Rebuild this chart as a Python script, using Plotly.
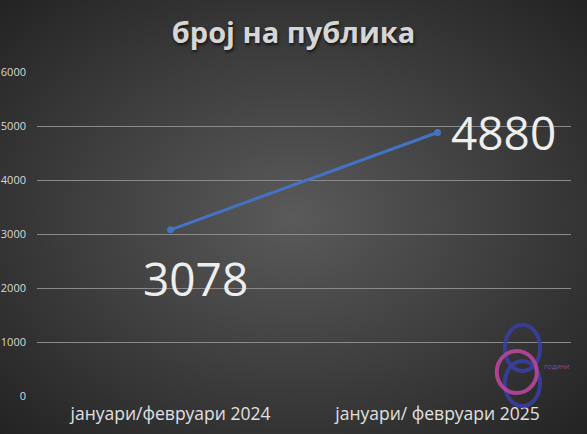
import plotly.graph_objects as go

categories = ["јануари/февруари 2024", "јануари/ февруари 2025"]
audience = [3078, 4880]
y_ticks = [0, 1000, 2000, 3000, 4000, 5000, 6000]
title_text = "број на публика"

W, H = 587, 434

fig = go.Figure()
fig.add_trace(go.Scatter(
    x=categories, y=audience, mode="lines+markers",
    line=dict(color="#4472c4", width=3),
    marker=dict(color="#4472c4", size=7),
    hoverinfo="skip",
))

# value labels
shifts = [(25, -48), (66, 0)]
for c, v, (dx, dy) in zip(categories, audience, shifts):
    fig.add_annotation(x=c, y=v, xref="x", yref="y", text=str(v), showarrow=False,
                       xshift=dx, yshift=dy,
                       font=dict(family="Open Sans", size=46, color="#eeeeee"))

# logo approximation (rings)
fig.add_shape(type="circle", xref="paper", yref="paper", x0=0.876, x1=0.942, y0=0.077, y1=0.220,
              line=dict(color="#3b3fa6", width=4), opacity=0.85)
fig.add_shape(type="circle", xref="paper", yref="paper", x0=0.876, x1=0.942, y0=-0.031, y1=0.108,
              line=dict(color="#3b3fa6", width=4), opacity=0.85)
fig.add_shape(type="circle", xref="paper", yref="paper", x0=0.861, x1=0.936, y0=0.009, y1=0.139,
              line=dict(color="#b8469c", width=4), opacity=0.9)
fig.add_annotation(x=1.0, y=0.07, xref="paper", yref="paper", text="ГОДИНИ", showarrow=False,
                   font=dict(family="Open Sans", size=6, color="#9a4a9a"))

fig.update_layout(
    width=W, height=H,
    margin=dict(l=37, r=16, t=72, b=38),
    paper_bgcolor="rgba(0,0,0,0)",
    plot_bgcolor="rgba(0,0,0,0)",
    showlegend=False,
    title=dict(text=f"<b>{title_text}</b>", x=0.5, xanchor="center", y=0.925, yanchor="middle",
               font=dict(family="Open Sans", size=29, color="#d6d6d6",
                         shadow="1px 2px 3px #151515")),
    xaxis=dict(range=[-0.5, 1.5], showgrid=False, zeroline=False, showline=False, ticks="",
               automargin=False,
               tickfont=dict(family="Open Sans", size=17.5, color="#e0e0e0"),
               ticklabelstandoff=5),
    yaxis=dict(range=[0, 6000], tickvals=y_ticks, showgrid=True, automargin=False,
               gridcolor="#8a8a8a", gridwidth=1, zeroline=False, showline=False,
               tickfont=dict(family="Open Sans", size=11, color="#d8d8d8"),
               ticklabelstandoff=10),
)

post = """
document.body.style.margin='0';
document.body.style.background='#262626';
var d=document.getElementsByClassName('plotly-graph-div')[0];
d.style.background='radial-gradient(ellipse at 50% 50%, #5a5a5a 0%, #3c3c3c 55%, #232323 100%)';
"""
fig.write_html("out.html", post_script=post, config={"displayModeBar": False})
